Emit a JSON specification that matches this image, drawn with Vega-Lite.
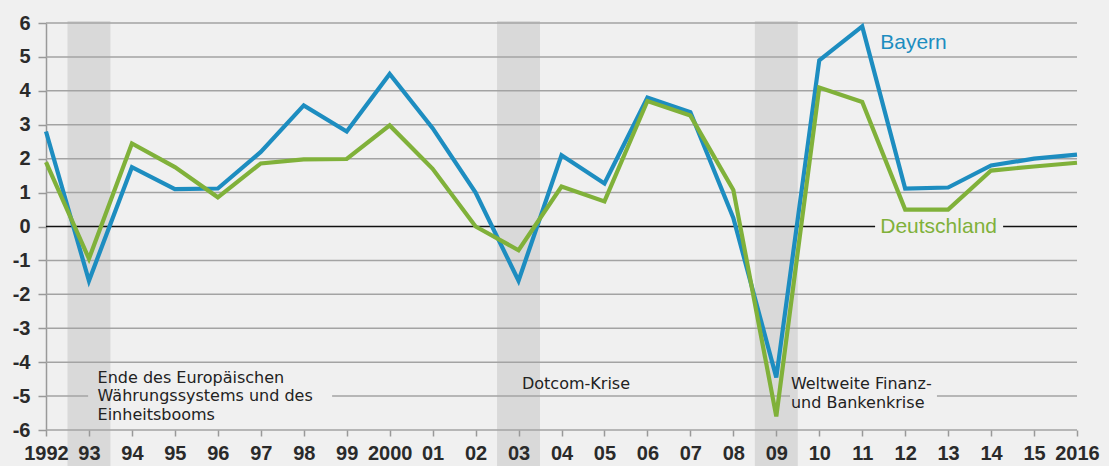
{
  "$schema": "https://vega.github.io/schema/vega-lite/v6.json",
  "width": 1031,
  "height": 407,
  "autosize": {"type": "none"},
  "padding": {"left": 46, "top": 23, "right": 32, "bottom": 36},
  "background": "#f0f0f0",
  "config": {"view": {"stroke": null}, "font": "Liberation Sans"},
  "datasets": {
    "series": [
      {"year": 1992, "region": "Bayern", "value": 2.8},
      {"year": 1993, "region": "Bayern", "value": -1.6},
      {"year": 1994, "region": "Bayern", "value": 1.75},
      {"year": 1995, "region": "Bayern", "value": 1.1},
      {"year": 1996, "region": "Bayern", "value": 1.12},
      {"year": 1997, "region": "Bayern", "value": 2.2},
      {"year": 1998, "region": "Bayern", "value": 3.57},
      {"year": 1999, "region": "Bayern", "value": 2.8},
      {"year": 2000, "region": "Bayern", "value": 4.5},
      {"year": 2001, "region": "Bayern", "value": 2.9},
      {"year": 2002, "region": "Bayern", "value": 1.0},
      {"year": 2003, "region": "Bayern", "value": -1.6},
      {"year": 2004, "region": "Bayern", "value": 2.1},
      {"year": 2005, "region": "Bayern", "value": 1.27},
      {"year": 2006, "region": "Bayern", "value": 3.8},
      {"year": 2007, "region": "Bayern", "value": 3.37},
      {"year": 2008, "region": "Bayern", "value": 0.25},
      {"year": 2009, "region": "Bayern", "value": -4.45},
      {"year": 2010, "region": "Bayern", "value": 4.9},
      {"year": 2011, "region": "Bayern", "value": 5.9},
      {"year": 2012, "region": "Bayern", "value": 1.12},
      {"year": 2013, "region": "Bayern", "value": 1.15},
      {"year": 2014, "region": "Bayern", "value": 1.8},
      {"year": 2015, "region": "Bayern", "value": 2.0},
      {"year": 2016, "region": "Bayern", "value": 2.12},
      {"year": 1992, "region": "Deutschland", "value": 1.9},
      {"year": 1993, "region": "Deutschland", "value": -0.95},
      {"year": 1994, "region": "Deutschland", "value": 2.45},
      {"year": 1995, "region": "Deutschland", "value": 1.75},
      {"year": 1996, "region": "Deutschland", "value": 0.86},
      {"year": 1997, "region": "Deutschland", "value": 1.86},
      {"year": 1998, "region": "Deutschland", "value": 1.98},
      {"year": 1999, "region": "Deutschland", "value": 1.99},
      {"year": 2000, "region": "Deutschland", "value": 2.98},
      {"year": 2001, "region": "Deutschland", "value": 1.7},
      {"year": 2002, "region": "Deutschland", "value": 0.0},
      {"year": 2003, "region": "Deutschland", "value": -0.7},
      {"year": 2004, "region": "Deutschland", "value": 1.18},
      {"year": 2005, "region": "Deutschland", "value": 0.74},
      {"year": 2006, "region": "Deutschland", "value": 3.7},
      {"year": 2007, "region": "Deutschland", "value": 3.27},
      {"year": 2008, "region": "Deutschland", "value": 1.08},
      {"year": 2009, "region": "Deutschland", "value": -5.6},
      {"year": 2010, "region": "Deutschland", "value": 4.1},
      {"year": 2011, "region": "Deutschland", "value": 3.67},
      {"year": 2012, "region": "Deutschland", "value": 0.5},
      {"year": 2013, "region": "Deutschland", "value": 0.5},
      {"year": 2014, "region": "Deutschland", "value": 1.65},
      {"year": 2015, "region": "Deutschland", "value": 1.77},
      {"year": 2016, "region": "Deutschland", "value": 1.88}
    ],
    "bands": [
      {"start": 1992.5, "end": 1993.5, "top": 6.06, "bottom": -7.2},
      {"start": 2002.5, "end": 2003.5, "top": 6.06, "bottom": -7.2},
      {"start": 2008.5, "end": 2009.5, "top": 6.06, "bottom": -7.2}
    ],
    "grid": [
      {"y": 6, "from": 1992, "to": 2016},
      {"y": 5, "from": 1992, "to": 2016},
      {"y": 4, "from": 1992, "to": 2016},
      {"y": 3, "from": 1992, "to": 2016},
      {"y": 2, "from": 1992, "to": 2016},
      {"y": 1, "from": 1992, "to": 2016},
      {"y": -1, "from": 1992, "to": 2016},
      {"y": -2, "from": 1992, "to": 2016},
      {"y": -3, "from": 1992, "to": 2016},
      {"y": -4, "from": 1992, "to": 2016},
      {"y": -5, "from": 1992, "to": 1992.98},
      {"y": -5, "from": 1998.66, "to": 2009.32},
      {"y": -5, "from": 2012.74, "to": 2016},
      {"y": -6, "from": 1992, "to": 2016}
    ],
    "zero": [
      {"y": 0, "from": 1992, "to": 2011.3},
      {"y": 0, "from": 2014.28, "to": 2016}
    ],
    "notes": [
      {"year": 1993.2, "value": -4.22, "label": "Ende des Europäischen\nWährungssystems und des\nEinheitsbooms"},
      {"year": 2003.08, "value": -4.42, "label": "Dotcom-Krise"},
      {"year": 2009.34, "value": -4.42, "label": "Weltweite Finanz-\nund Bankenkrise"}
    ],
    "names": [
      {"year": 2011.42, "value": 5.4, "label": "Bayern", "region": "Bayern"},
      {"year": 2011.42, "value": 0.0, "label": "Deutschland", "region": "Deutschland"}
    ]
  },
  "encoding": {
    "x": {
      "type": "quantitative",
      "scale": {"domain": [1992, 2016], "nice": false},
      "axis": {
        "values": [1992,1993,1994,1995,1996,1997,1998,1999,2000,2001,2002,2003,2004,2005,2006,2007,2008,2009,2010,2011,2012,2013,2014,2015,2016],
        "labelExpr": "datum.value == 1992 || datum.value == 2000 || datum.value == 2016 ? datum.value + '' : slice('' + datum.value, 2)",
        "title": null, "grid": false, "domain": false,
        "tickColor": "#999999", "tickSize": 6, "tickWidth": 1.5,
        "labelFont": "Liberation Sans", "labelFontWeight": "bold", "labelFontSize": 20,
        "labelColor": "#2a2a2a", "labelPadding": 7, "labelOverlap": false, "labelFlush": false,
        "zindex": 1
      }
    },
    "y": {
      "type": "quantitative",
      "scale": {"domain": [-6, 6], "nice": false},
      "axis": {
        "values": [-6,-5,-4,-3,-2,-1,0,1,2,3,4,5,6],
        "labelExpr": "datum.value + ''",
        "title": null, "grid": false, "domain": true, "domainColor": "#999999", "domainWidth": 1.5,
        "tickColor": "#999999", "tickSize": 8, "tickWidth": 1.5,
        "labelFont": "Liberation Sans", "labelFontWeight": "bold", "labelFontSize": 20,
        "labelColor": "#2a2a2a", "labelPadding": 8, "labelOverlap": false, "labelFlush": false
      }
    }
  },
  "layer": [
    {
      "data": {"name": "bands"},
      "mark": {"type": "rect", "color": "#d9d9d9", "clip": false},
      "encoding": {
        "x": {"field": "start"},
        "x2": {"field": "end"},
        "y": {"field": "top"},
        "y2": {"field": "bottom"}
      }
    },
    {
      "data": {"name": "grid"},
      "mark": {"type": "rule", "color": "#a3a3a3", "strokeWidth": 1.5},
      "encoding": {
        "x": {"field": "from"},
        "x2": {"field": "to"},
        "y": {"field": "y"}
      }
    },
    {
      "data": {"name": "zero"},
      "mark": {"type": "rule", "color": "#111111", "strokeWidth": 1.5},
      "encoding": {
        "x": {"field": "from"},
        "x2": {"field": "to"},
        "y": {"field": "y"}
      }
    },
    {
      "data": {"name": "series"},
      "mark": {"type": "line", "strokeWidth": 4.2, "strokeJoin": "miter"},
      "encoding": {
        "x": {"field": "year"},
        "y": {"field": "value"},
        "color": {
          "field": "region", "type": "nominal",
          "scale": {"domain": ["Bayern", "Deutschland"], "range": ["#1d8dc0", "#80b13a"]},
          "legend": null
        }
      }
    },
    {
      "data": {"name": "notes"},
      "mark": {"type": "text", "align": "left", "baseline": "top", "font": "DejaVu Sans", "fontSize": 16, "lineHeight": 18.5, "lineBreak": "\n", "color": "#222222"},
      "encoding": {
        "x": {"field": "year"},
        "y": {"field": "value"},
        "text": {"field": "label"}
      }
    },
    {
      "data": {"name": "names"},
      "mark": {"type": "text", "align": "left", "baseline": "middle", "font": "Liberation Sans", "fontSize": 21},
      "encoding": {
        "x": {"field": "year"},
        "y": {"field": "value"},
        "text": {"field": "label"},
        "color": {"field": "region", "type": "nominal", "legend": null}
      }
    }
  ]
}
